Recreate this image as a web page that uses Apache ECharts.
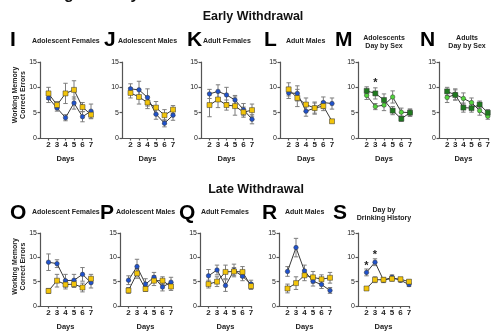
<!DOCTYPE html>
<html>
<head>
<meta charset="utf-8">
<script src="https://cdn.jsdelivr.net/npm/echarts@6/dist/echarts.min.js"></script>
<style>
  html, body { margin: 0; padding: 0; background: #fff; }
  #chart { width: 493px; height: 332px; }
</style>
</head>
<body>
<div id="chart"></div>
<script>
// Days on the x axis (same for every panel)
const DAYS = [2, 3, 4, 5, 6, 7]

// Early withdrawal — means and SEM
const iYellow = [8.8, 6.5, 8.8, 9.5, 6.1, 4.6]
const iYellowErr = [1.2, 0.7, 2.0, 1.8, 0.9, 0.8]
const iBlue = [7.9, 5.9, 4.0, 6.9, 4.2, 5.3]
const iBlueErr = [0.9, 0.6, 0.6, 1.2, 1.0, 1.4]

const jYellow = [8.9, 8.1, 7.0, 6.0, 4.5, 5.6]
const jYellowErr = [1.0, 1.4, 1.2, 1.2, 1.1, 0.8]
const jBlue = [9.7, 9.5, 8.0, 4.7, 2.9, 4.5]
const jBlueErr = [1.0, 1.7, 1.7, 1.0, 0.7, 1.0]

const kYellow = [6.5, 7.6, 6.5, 6.3, 5.1, 5.5]
const kYellowErr = [2.3, 1.6, 1.0, 1.8, 1.0, 1.2]
const kBlue = [8.7, 9.2, 8.5, 7.5, 5.6, 3.7]
const kBlueErr = [0.9, 1.3, 1.5, 0.9, 1.2, 0.9]

const lYellow = [9.6, 7.9, 6.6, 5.9, 6.3, 3.3]
const lYellowErr = [1.3, 1.7, 1.3, 1.0, 0.9, 0.3]
const lBlue = [8.9, 8.8, 5.3, 5.9, 7.0, 6.8]
const lBlueErr = [1.1, 1.5, 1.0, 1.2, 1.1, 1.1]

const mDark = [9.3, 8.8, 7.5, 5.4, 3.8, 5.0]
const mDarkErr = [0.8, 1.1, 1.2, 0.8, 0.5, 0.7]
const mLight = [8.4, 6.2, 6.5, 8.1, 5.1, 5.0]
const mLightErr = [0.8, 0.6, 1.1, 1.2, 0.8, 0.7]
const mStars = [[3, 11.2]]

const nDark = [9.2, 8.5, 6.0, 5.9, 6.6, 5.0]
const nDarkErr = [0.8, 1.0, 0.9, 0.8, 0.7, 0.6]
const nLight = [8.0, 8.6, 7.8, 7.0, 5.4, 4.3]
const nLightErr = [1.0, 1.1, 1.1, 0.9, 0.9, 0.6]

// Late withdrawal
const oYellow = [3.1, 5.2, 4.4, 4.5, 3.8, 5.6]
const oYellowErr = [0.5, 1.3, 0.9, 0.7, 0.9, 0.9]
const oBlue = [9.0, 8.7, 5.2, 5.3, 6.5, 4.8]
const oBlueErr = [1.7, 0.8, 1.3, 1.2, 1.4, 1.1]

const pYellow = [3.2, 6.7, 3.5, 5.2, 5.2, 4.0]
const pYellowErr = [0.6, 1.0, 0.5, 1.0, 0.8, 0.8]
const pBlue = [5.3, 8.1, 4.5, 5.9, 3.9, 4.9]
const pBlueErr = [0.9, 1.5, 1.1, 1.0, 0.8, 1.0]

const qYellow = [4.5, 5.0, 7.0, 7.1, 7.0, 4.1]
const qYellowErr = [0.8, 1.0, 1.4, 0.8, 1.1, 0.7]
const qBlue = [6.2, 7.4, 4.2, 7.3, 6.1, 4.5]
const qBlueErr = [1.3, 1.0, 1.2, 1.3, 0.9, 0.8]

const rYellow = [3.6, 4.7, 6.3, 5.9, 5.5, 5.8]
const rYellowErr = [0.9, 1.3, 1.1, 1.2, 0.9, 1.1]
const rBlue = [7.1, 12.0, 7.2, 5.1, 4.4, 3.2]
const rBlueErr = [1.0, 1.9, 1.2, 1.0, 0.8, 0.6]

const sYellow = [3.6, 5.4, 5.4, 5.6, 5.5, 5.0]
const sYellowErr = [0.3, 0.6, 0.4, 0.5, 0.4, 0.4]
const sBlue = [6.9, 9.0, 5.3, 5.9, 5.3, 4.4]
const sBlueErr = [0.7, 0.7, 0.5, 0.5, 0.4, 0.4]
const sStars = [[2, 8.6], [3, 10.8]]

const Y_TICKS = { min: 0, max: 15, step: 5 }

const FONT = 'Liberation Sans, Arial, sans-serif'
const BLUE = '#1f52cc'
const YELLOW = '#f2c40a'
const DARK_GREEN = '#1f7a1f'
const LIGHT_GREEN = '#52d43c'

const PANELS = [
  { letter: 'I', title: 'Adolescent Females', sq: iYellow, sqErr: iYellowErr, ci: iBlue, ciErr: iBlueErr, sqColor: YELLOW, ciColor: BLUE,
    left: 40, top: 62, width: 51, height: 76, lx: 10, ly: 30, tx: 32, ty: 41, align: 'left', yName: true },
  { letter: 'J', title: 'Adolescent Males', sq: jYellow, sqErr: jYellowErr, ci: jBlue, ciErr: jBlueErr, sqColor: YELLOW, ciColor: BLUE,
    left: 122, top: 62, width: 51, height: 76, lx: 104, ly: 30, tx: 118, ty: 41, align: 'left' },
  { letter: 'K', title: 'Adult Females', sq: kYellow, sqErr: kYellowErr, ci: kBlue, ciErr: kBlueErr, sqColor: YELLOW, ciColor: BLUE,
    left: 201, top: 62, width: 51, height: 76, lx: 187, ly: 30, tx: 203, ty: 41, align: 'left' },
  { letter: 'L', title: 'Adult Males', sq: lYellow, sqErr: lYellowErr, ci: lBlue, ciErr: lBlueErr, sqColor: YELLOW, ciColor: BLUE,
    left: 280, top: 62, width: 52, height: 76, lx: 264, ly: 30, tx: 286, ty: 41, align: 'left' },
  { letter: 'M', title: 'Adolescents\nDay by Sex', sq: mDark, sqErr: mDarkErr, ci: mLight, ciErr: mLightErr, sqColor: DARK_GREEN, ciColor: LIGHT_GREEN,
    left: 358, top: 62, width: 52, height: 76, lx: 335, ly: 30, tx: 384, ty: 42, align: 'center', stars: mStars },
  { letter: 'N', title: 'Adults\nDay by Sex', sq: nDark, sqErr: nDarkErr, ci: nLight, ciErr: nLightErr, sqColor: DARK_GREEN, ciColor: LIGHT_GREEN,
    left: 439, top: 62, width: 52, height: 76, lx: 420, ly: 30, tx: 467, ty: 42, align: 'center' },
  { letter: 'O', title: 'Adolescent Females', sq: oYellow, sqErr: oYellowErr, ci: oBlue, ciErr: oBlueErr, sqColor: YELLOW, ciColor: BLUE,
    left: 40, top: 233, width: 51, height: 77, lx: 10, ly: 203, tx: 32, ty: 212, align: 'left', yName: true },
  { letter: 'P', title: 'Adolescent Males', sq: pYellow, sqErr: pYellowErr, ci: pBlue, ciErr: pBlueErr, sqColor: YELLOW, ciColor: BLUE,
    left: 120, top: 233, width: 51, height: 77, lx: 100, ly: 203, tx: 116, ty: 212, align: 'left' },
  { letter: 'Q', title: 'Adult Females', sq: qYellow, sqErr: qYellowErr, ci: qBlue, ciErr: qBlueErr, sqColor: YELLOW, ciColor: BLUE,
    left: 200, top: 233, width: 51, height: 77, lx: 179, ly: 203, tx: 201, ty: 212, align: 'left' },
  { letter: 'R', title: 'Adult Males', sq: rYellow, sqErr: rYellowErr, ci: rBlue, ciErr: rBlueErr, sqColor: YELLOW, ciColor: BLUE,
    left: 279, top: 233, width: 51, height: 77, lx: 262, ly: 203, tx: 285, ty: 212, align: 'left' },
  { letter: 'S', title: 'Day by\nDrinking History', sq: sYellow, sqErr: sYellowErr, ci: sBlue, ciErr: sBlueErr, sqColor: YELLOW, ciColor: BLUE,
    left: 358, top: 233, width: 51, height: 77, lx: 333, ly: 203, tx: 384, ty: 214, align: 'center', stars: sStars },
]

// error bar: vertical line with small caps
function errorBarSeries(idx, vals, errs) {
  return {
    type: 'custom',
    xAxisIndex: idx,
    yAxisIndex: idx,
    silent: true,
    z: 1,
    data: vals.map((v, k) => [DAYS[k], v - errs[k], v + errs[k]]),
    renderItem: (params, api) => {
      const lo = api.coord([api.value(0), api.value(1)])
      const hi = api.coord([api.value(0), api.value(2)])
      const cw = 2.2
      const style = { stroke: '#7d7d7d', lineWidth: 1 }
      return {
        type: 'group',
        children: [
          { type: 'line', shape: { x1: lo[0], y1: lo[1], x2: hi[0], y2: hi[1] }, style },
          { type: 'line', shape: { x1: lo[0] - cw, y1: lo[1], x2: lo[0] + cw, y2: lo[1] }, style },
          { type: 'line', shape: { x1: hi[0] - cw, y1: hi[1], x2: hi[0] + cw, y2: hi[1] }, style },
        ],
      }
    },
  }
}

function lineSeries(idx, vals, color, symbol, size) {
  return {
    type: 'line',
    xAxisIndex: idx,
    yAxisIndex: idx,
    data: vals.map((v, k) => [DAYS[k], v]),
    symbol,
    symbolSize: size,
    showAllSymbol: true,
    lineStyle: { color: '#3a3a3a', width: 1 },
    itemStyle: { color, borderColor: '#333', borderWidth: 0.5 },
    z: 3,
  }
}

function starSeries(idx, stars) {
  return {
    type: 'custom',
    xAxisIndex: idx,
    yAxisIndex: idx,
    silent: true,
    z: 4,
    data: stars,
    renderItem: (params, api) => {
      const p = api.coord([api.value(0), api.value(1)])
      return {
        type: 'text',
        style: { text: '*', x: p[0], y: p[1] + 2, align: 'center', verticalAlign: 'middle', font: `bold 11px ${FONT}`, fill: '#222' },
      }
    },
  }
}

const grids = []
const xAxes = []
const yAxes = []
const series = []
const graphics = []

const axisLineStyle = { color: '#555', width: 1.2 }

PANELS.forEach((p, i) => {
  grids.push({ left: p.left, top: p.top, width: p.width, height: p.height })
  xAxes.push({
    gridIndex: i,
    type: 'value',
    min: 1,
    max: 7,
    interval: 1,
    axisLine: { show: true, onZero: false, lineStyle: axisLineStyle },
    axisTick: { show: true, length: 2.5, customValues: DAYS, lineStyle: axisLineStyle },
    axisLabel: {
      customValues: DAYS,
      formatter: (v) => (v === 1 ? '' : String(v)),
      fontSize: 8,
      fontWeight: 'bold',
      fontFamily: FONT,
      color: '#222',
      margin: 3,
    },
    splitLine: { show: false },
    name: 'Days',
    nameLocation: 'middle',
    nameGap: 17,
    nameTextStyle: { fontSize: 7.5, fontWeight: 'bold', fontFamily: FONT, color: '#222' },
  })
  yAxes.push({
    gridIndex: i,
    type: 'value',
    min: Y_TICKS.min,
    max: Y_TICKS.max,
    interval: Y_TICKS.step,
    axisLine: { show: true, lineStyle: axisLineStyle },
    axisTick: { show: true, length: 2.5, lineStyle: axisLineStyle },
    axisLabel: { fontSize: 7, fontFamily: FONT, color: '#222', margin: 3 },
    splitLine: { show: false },
  })

  series.push(errorBarSeries(i, p.ci, p.ciErr))
  series.push(errorBarSeries(i, p.sq, p.sqErr))
  series.push(lineSeries(i, p.ci, p.ciColor, 'circle', 4.5))
  series.push(lineSeries(i, p.sq, p.sqColor, 'rect', 5))
  if (p.stars) series.push(starSeries(i, p.stars))

  graphics.push({
    type: 'text',
    left: p.lx,
    top: p.ly,
    style: { text: p.letter, font: `bold 21px ${FONT}`, fill: '#000' },
  })
  graphics.push({
    type: 'text',
    x: p.tx,
    y: p.ty,
    style: {
      text: p.title,
      font: `bold 7px ${FONT}`,
      fill: '#222',
      align: p.align,
      verticalAlign: 'middle',
      lineHeight: 8.5,
    },
  })
  if (p.yName) {
    graphics.push({
      type: 'text',
      x: 19,
      y: p.top + p.height / 2 - 5,
      rotation: Math.PI / 2,
      style: {
        text: 'Working Memory\nCorrect Errors',
        font: `bold 7px ${FONT}`,
        fill: '#222',
        align: 'center',
        verticalAlign: 'middle',
        lineHeight: 7.5,
      },
    })
  }
})

// figure & section headings
graphics.push({ type: 'text', x: 10, y: -13, style: { text: 'Working Memory Correct Errors', font: `bold 16px ${FONT}`, fill: '#111' } })
graphics.push({ type: 'text', x: 253, y: 17, style: { text: 'Early Withdrawal', font: `bold 12.5px ${FONT}`, fill: '#111', align: 'center', verticalAlign: 'middle' } })
graphics.push({ type: 'text', x: 256, y: 190, style: { text: 'Late Withdrawal', font: `bold 12.5px ${FONT}`, fill: '#111', align: 'center', verticalAlign: 'middle' } })

const chart = echarts.init(document.getElementById('chart'), null, { renderer: 'canvas' })
chart.setOption({
  animation: false,
  backgroundColor: '#fff',
  grid: grids,
  xAxis: xAxes,
  yAxis: yAxes,
  series,
  graphic: graphics,
})
</script>
</body>
</html>
